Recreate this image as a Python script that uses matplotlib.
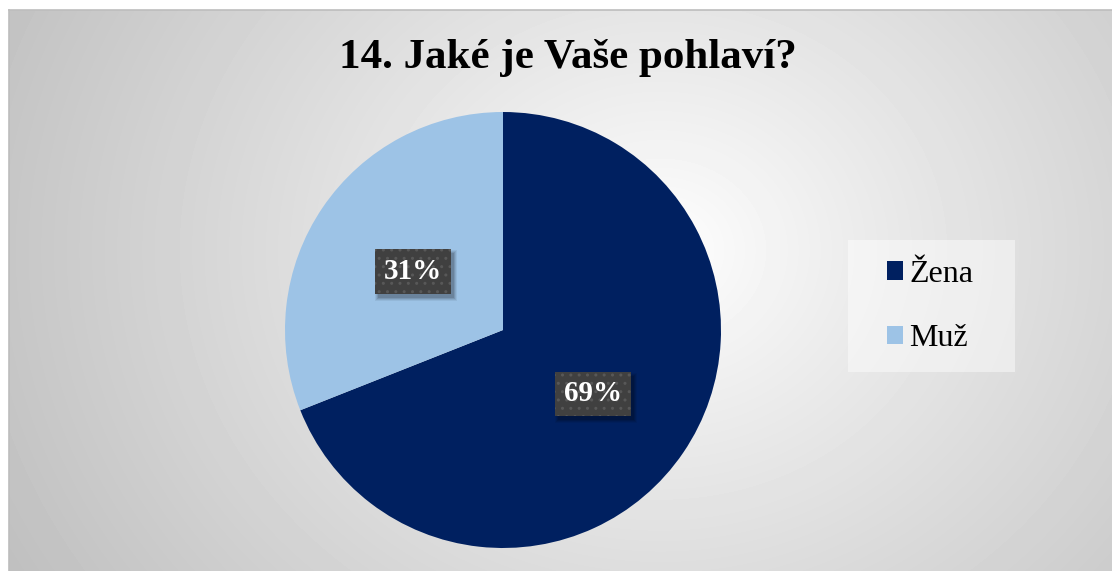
import numpy as np
import matplotlib
matplotlib.use("Agg")
import matplotlib.pyplot as plt
from matplotlib.patches import Patch, Rectangle

labels = ["Žena", "Muž"]
shares = [69, 31]
colors = ["#002060", "#9DC3E6"]
title = "14. Jaké je Vaše pohlaví?"

W, H = 1112, 571
fig = plt.figure(figsize=(W / 100, H / 100), dpi=100)
fig.patch.set_facecolor("white")
plt.rcParams["font.family"] = ["Liberation Serif", "DejaVu Serif"]

# radial gradient background of the chart area
x0, y0 = 9, 10
bg = fig.add_axes([x0 / W, 0, (W - x0) / W, (H - y0) / H])
yy, xx = np.mgrid[0:H - y0, 0:W - x0]
cx, cy = 660 - x0, 250 - y0
d = np.hypot(xx - cx, (yy - cy) * 1.15)
d = d / d.max()
shade = 1.0 - 0.25 * np.clip(d, 0, 1) ** 0.9
bg.imshow(shade, cmap="gray", vmin=0, vmax=1, aspect="auto", interpolation="bilinear")
bg.set_axis_off()
fig.add_artist(plt.Line2D([x0 / W, 1], [1 - y0 / H, 1 - y0 / H], color="#bdbdbd", lw=1.2))
fig.add_artist(plt.Line2D([x0 / W, x0 / W], [0, 1 - y0 / H], color="#bdbdbd", lw=1.2))

fig.text(568 / W, 1 - 58 / H, title, ha="center", va="center", fontsize=31, fontweight="bold")

# pie
pcx, pcy, r = 503, 330, 218
ax = fig.add_axes([(pcx - r) / W, (H - pcy - r) / H, 2 * r / W, 2 * r / H])
wedges, texts, autotexts = ax.pie(shares, colors=colors, startangle=90, counterclock=False,
                                  autopct="%d%%", pctdistance=0.5, radius=1.0,
                                  wedgeprops=dict(linewidth=0))
for t in autotexts:
    t.set_color("white")
    t.set_fontsize(21)
    t.set_fontweight("bold")
    t.set_zorder(5)
    t.set_position((t.get_position()[0], t.get_position()[1] - 0.012))
    t.set_bbox(dict(boxstyle="square,pad=0.3", facecolor="#404040", edgecolor="#585858",
                    hatch="..", linewidth=0))
ax.set_xlim(-1, 1)
ax.set_ylim(-1, 1)
ax.set_axis_off()

# soft drop shadow under the label boxes
fig.canvas.draw()
for t in autotexts:
    ext = t.get_bbox_patch().get_window_extent()
    for k, a in enumerate([0.06, 0.08, 0.10, 0.12]):
        g = 3 - k
        rect = Rectangle(((ext.x0 + 3 - g) / W, (ext.y0 - 4 - g) / H),
                         (ext.width + 2 * g) / W, (ext.height + 2 * g) / H,
                         transform=fig.transFigure, facecolor="black", alpha=a,
                         edgecolor="none", zorder=4)
        ax.add_artist(rect)

# legend panel
fig.patches.append(Rectangle((848 / W, 1 - 372 / H), 167 / W, 132 / H, transform=fig.transFigure,
                             facecolor="white", alpha=0.45, edgecolor="none", zorder=1))
handles = [Patch(facecolor=c, label=l) for c, l in zip(colors, labels)]
leg = fig.legend(handles=handles, loc="center left", bbox_to_anchor=(887 / W, 1 - 306.5 / H),
                 fontsize=23, frameon=False, handlelength=0.5, handleheight=0.5,
                 handletextpad=0.2, labelspacing=1.1, borderpad=0, borderaxespad=0)

fig.savefig("out.png", dpi=100)
